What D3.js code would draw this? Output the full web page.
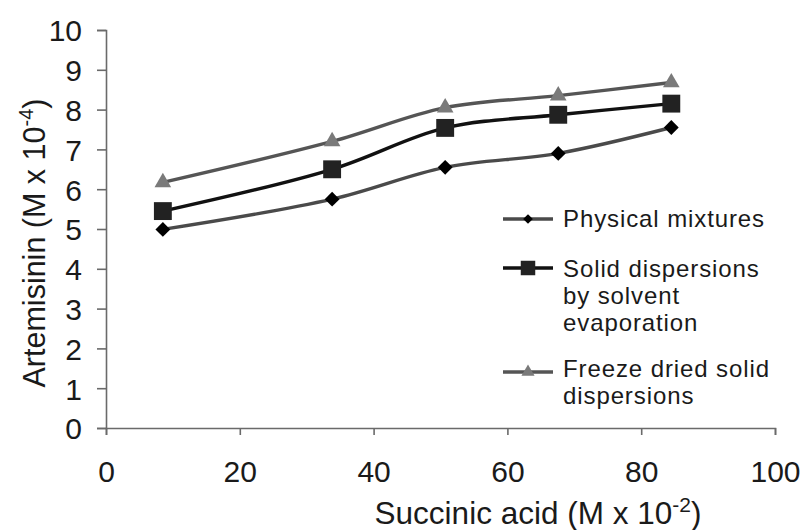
<!DOCTYPE html>
<html><head><meta charset="utf-8">
<script src="https://cdn.jsdelivr.net/npm/d3@7/dist/d3.min.js"></script>
<style>body{margin:0;background:#fff}svg{display:block}text{font-family:"Liberation Sans",Arial,sans-serif;fill:#1a1a1a}</style>
</head><body>
<script>
const xValues = [8.5, 33.8, 50.7, 67.6, 84.5];
const physicalMixtures = [4.99, 5.75, 6.55, 6.9, 7.55];
const solventEvaporation = [5.45, 6.5, 7.54, 7.87, 8.15];
const freezeDried = [6.17, 7.2, 8.05, 8.35, 8.68];
const xTicks = [0, 20, 40, 60, 80, 100];
const yTicks = [0,1,2,3,4,5,6,7,8,9,10];
const seriesNames = ["Physical mixtures", "Solid dispersions by solvent evaporation", "Freeze dried solid dispersions"];

const W = 802, H = 530;
const svg = d3.select("body").append("svg").attr("width", W).attr("height", H);
const x = d3.scaleLinear().domain([0, 100]).range([106, 775]);
const y = d3.scaleLinear().domain([0, 10]).range([428, 30]);

const axisColor = "#6a6a6a";
const FONT = '"Liberation Sans",Arial,sans-serif';
// y axis
const gy = svg.append("g").attr("transform", "translate(106,0)")
  .call(d3.axisLeft(y).tickValues(yTicks).tickSize(9).tickPadding(15).tickFormat(d3.format("d")));
gy.select(".domain").attr("stroke", axisColor).attr("stroke-width", 1.6);
gy.selectAll(".tick line").attr("stroke", axisColor).attr("stroke-width", 1.6);
gy.selectAll(".tick text").attr("font-size", 30).attr("fill", "#1a1a1a").attr("dy", "0.36em")
  .attr("font-family", FONT);

// x axis
const gx = svg.append("g").attr("transform", "translate(0,428)")
  .call(d3.axisBottom(x).tickValues(xTicks).tickSize(7).tickPadding(25).tickFormat(d3.format("d")));
gx.select(".domain").attr("stroke", axisColor).attr("stroke-width", 1.6);
gx.selectAll(".tick line").attr("stroke", axisColor).attr("stroke-width", 1.6);
gx.selectAll(".tick text").attr("font-size", 30).attr("fill", "#1a1a1a").attr("dy", "0.72em")
  .attr("font-family", FONT);

// axis titles
const xt = svg.append("text").attr("x", 538).attr("y", 524).attr("text-anchor", "middle").attr("font-size", 31.5);
xt.append("tspan").text("Succinic acid (M x 10");
xt.append("tspan").attr("dy", -12).attr("font-size", 21).text("-2");
xt.append("tspan").attr("dy", 12).text(")");

const yt = svg.append("text").attr("transform", "translate(45,243) rotate(-90)").attr("text-anchor", "middle").attr("font-size", 30.5);
yt.append("tspan").text("Artemisinin (M x 10");
yt.append("tspan").attr("dy", -12).attr("font-size", 20).text("-4");
yt.append("tspan").attr("dy", 12).text(")");

const line = d3.line().x(d => x(d[0])).y(d => y(d[1])).curve(d3.curveCatmullRom.alpha(0.5));

const series = [
  {name: seriesNames[0], vals: physicalMixtures, stroke: "#4a4a4a", sym: d3.symbolDiamond2, size: 140, lsize: 60, fill: "#000"},
  {name: seriesNames[1], vals: solventEvaporation, stroke: "#111", sym: d3.symbolSquare, size: 320, lsize: 210, fill: "#222"},
  {name: seriesNames[2], vals: freezeDried, stroke: "#555", sym: d3.symbolTriangle, size: 120, lsize: 75, fill: "#7a7a7a"}
];

series.forEach(s => {
  const pts = xValues.map((v, i) => [v, s.vals[i]]);
  svg.append("path").datum(pts).attr("d", line).attr("fill", "none").attr("stroke", s.stroke).attr("stroke-width", 3.4);
  svg.selectAll(null).data(pts).enter().append("path")
    .attr("transform", d => `translate(${x(d[0])},${y(d[1])})`)
    .attr("d", d3.symbol().type(s.sym).size(s.size)).attr("fill", s.fill);
});

// legend
const legendRows = [
  {lines: ["Physical mixtures"], cy: 219, base: 227},
  {lines: ["Solid dispersions", "by solvent", "evaporation"], cy: 268, base: 277},
  {lines: ["Freeze dried solid", "dispersions"], cy: 372, base: 377}
];
legendRows.forEach((r, i) => {
  const s = series[i];
  svg.append("line").attr("x1", 503).attr("x2", 553).attr("y1", r.cy).attr("y2", r.cy)
    .attr("stroke", s.stroke).attr("stroke-width", 3.4);
  svg.append("path").attr("transform", `translate(528,${r.cy})`)
    .attr("d", d3.symbol().type(s.sym).size(s.lsize)).attr("fill", s.fill);
  const t = svg.append("text").attr("x", 563).attr("y", r.base).attr("font-size", 24).attr("letter-spacing", 0.9);
  r.lines.forEach((l, j) => t.append("tspan").attr("x", 563).attr("dy", j === 0 ? 0 : 27).text(l));
});
</script>
</body></html>
